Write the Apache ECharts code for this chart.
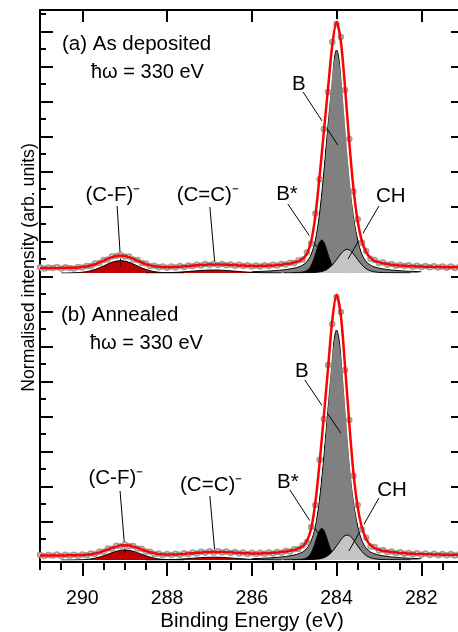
<!DOCTYPE html>
<html>
<head>
<meta charset="utf-8">
<script src="https://cdn.jsdelivr.net/npm/echarts@6/dist/echarts.min.js"></script>
<style>
  html, body { margin: 0; padding: 0; background: #fff; }
  #grafico { width: 458px; height: 632px; }
</style>
</head>
<body>
<div id="grafico"></div>
<script>
// binding energy of the measured points (eV)
var energia = [291.0, 290.9, 290.8, 290.7, 290.6, 290.5, 290.4, 290.3, 290.2, 290.1,
  290.0, 289.9, 289.8, 289.7, 289.6, 289.5, 289.4, 289.3, 289.2, 289.1,
  289.0, 288.9, 288.8, 288.7, 288.6, 288.5, 288.4, 288.3, 288.2, 288.1,
  288.0, 287.9, 287.8, 287.7, 287.6, 287.5, 287.4, 287.3, 287.2, 287.1,
  287.0, 286.9, 286.8, 286.7, 286.6, 286.5, 286.4, 286.3, 286.2, 286.1,
  286.0, 285.9, 285.8, 285.7, 285.6, 285.5, 285.4, 285.3, 285.2, 285.1,
  285.0, 284.9, 284.8, 284.7, 284.6, 284.5, 284.4, 284.3, 284.2, 284.1,
  284.0, 283.9, 283.8, 283.7, 283.6, 283.5, 283.4, 283.3, 283.2, 283.1,
  283.0, 282.9, 282.8, 282.7, 282.6, 282.5, 282.4, 282.3, 282.2, 282.1,
  282.0, 281.9, 281.8, 281.7, 281.6, 281.5, 281.4, 281.3, 281.2, 281.1,
  281.0];

// (a) as deposited
var dadosA = [5.8, 4.6, 5.5, 4.9, 5.9, 4.4, 5.7, 5.0, 4.6, 6.1,
  5.4, 7.0, 7.1, 9.5, 10.0, 13.0, 13.6, 16.6, 17.0, 18.3,
  16.5, 16.4, 13.6, 12.9, 10.0, 9.4, 7.1, 7.2, 5.7, 6.5,
  5.3, 6.4, 5.6, 6.9, 6.1, 7.5, 6.8, 8.3, 7.5, 8.9,
  8.0, 9.2, 8.1, 9.0, 7.7, 8.6, 7.3, 8.2, 6.9, 7.8,
  6.6, 7.6, 6.6, 7.8, 6.9, 8.2, 7.4, 8.9, 8.4, 10.3,
  10.0, 12.6, 13.4, 20.5, 29.6, 59.5, 93.8, 144, 181, 231,
  249, 236, 183, 134, 81.6, 53.7, 30.2, 22.1, 14.2, 13.1,
  10.0, 10.4, 8.3, 8.9, 7.2, 8.1, 6.9, 7.7, 6.2, 7.3,
  5.9, 7.0, 5.7, 6.8, 5.4, 6.6, 5.2, 6.4, 5.1, 6.3,
  5.0];
var ajusteA = [5.1, 5.1, 5.1, 5.1, 5.1, 5.1, 5.2, 5.2, 5.3, 5.5,
  5.9, 6.5, 7.5, 8.8, 10.4, 12.3, 14.2, 15.9, 17.1, 17.5,
  17.1, 15.9, 14.2, 12.3, 10.5, 8.9, 7.6, 6.7, 6.2, 5.9,
  5.8, 5.9, 6.0, 6.3, 6.6, 6.9, 7.3, 7.7, 8.0, 8.3,
  8.5, 8.6, 8.6, 8.5, 8.3, 8.1, 7.9, 7.6, 7.4, 7.2,
  7.1, 7.0, 7.1, 7.2, 7.4, 7.6, 7.9, 8.3, 8.9, 9.6,
  10.5, 11.8, 14.0, 19.2, 31.4, 57.2, 96.9, 141, 185, 228,
  251, 232, 186, 131, 84.4, 51.5, 31.7, 20.9, 15.0, 12.2,
  10.6, 9.7, 8.9, 8.3, 7.8, 7.5, 7.2, 6.9, 6.7, 6.6,
  6.4, 6.3, 6.2, 6.1, 6.0, 5.9, 5.8, 5.8, 5.7, 5.7,
  5.6];

// (b) annealed
var dadosB = [5.3, 4.0, 5.1, 4.2, 5.4, 3.9, 5.2, 4.3, 5.3, 4.2,
  5.6, 4.8, 6.5, 6.0, 8.3, 8.2, 11.4, 11.3, 14.3, 13.7,
  15.6, 13.9, 14.1, 11.4, 11.2, 8.4, 8.3, 6.1, 6.6, 5.0,
  6.1, 5.0, 6.2, 5.2, 6.8, 5.8, 7.5, 6.6, 8.2, 7.2,
  8.7, 7.5, 8.8, 7.4, 8.4, 7.1, 8.0, 6.5, 7.5, 6.1,
  7.2, 6.0, 7.2, 6.2, 7.5, 6.6, 8.1, 7.3, 9.1, 8.6,
  10.8, 10.9, 14.5, 18.1, 33.0, 55.1, 100.2, 141, 195, 236,
  263, 248, 190, 140, 84.3, 54.9, 30.4, 22.3, 13.6, 12.9,
  9.4, 9.9, 7.8, 8.6, 6.8, 7.8, 6.2, 7.1, 5.7, 6.8,
  5.3, 6.5, 5.0, 6.3, 4.8, 6.1, 4.7, 5.9, 4.6, 5.8,
  4.5];
var ajusteB = [4.6, 4.6, 4.6, 4.6, 4.6, 4.6, 4.6, 4.7, 4.7, 4.8,
  5.0, 5.3, 5.8, 6.5, 7.6, 8.9, 10.5, 12.0, 13.4, 14.4,
  14.7, 14.4, 13.4, 12.1, 10.5, 9.0, 7.7, 6.7, 6.0, 5.6,
  5.5, 5.5, 5.6, 5.8, 6.1, 6.4, 6.8, 7.2, 7.6, 7.8,
  8.0, 8.1, 8.1, 8.0, 7.8, 7.7, 7.4, 7.1, 6.9, 6.7,
  6.6, 6.6, 6.6, 6.8, 6.9, 7.2, 7.5, 7.9, 8.5, 9.2,
  10.1, 11.5, 13.7, 19.0, 31.2, 57.7, 97.2, 144, 192, 240,
  265, 245, 194, 137, 86.9, 52.7, 32.2, 21.0, 14.8, 12.0,
  10.2, 9.2, 8.5, 7.9, 7.4, 7.1, 6.8, 6.5, 6.3, 6.1,
  6.0, 5.8, 5.7, 5.6, 5.5, 5.4, 5.3, 5.3, 5.2, 5.2,
  5.1];

// fitted components
var eCF = [290.5, 290.4, 290.3, 290.2, 290.1, 290.0, 289.9, 289.8, 289.7, 289.6,
  289.5, 289.4, 289.3, 289.2, 289.1, 289.0, 288.9, 288.8, 288.7, 288.6,
  288.5, 288.4, 288.3, 288.2, 288.1, 288.0, 287.9, 287.8, 287.7, 287.6];
var cfA = [0, 0.04, 0.09, 0.2, 0.4, 0.77, 1.38, 2.3, 3.6, 5.2,
  7.1, 9.0, 10.7, 11.9, 12.3, 11.9, 10.7, 9.0, 7.1, 5.2,
  3.6, 2.3, 1.38, 0.77, 0.4, 0.2, 0.09, 0.04, 0, 0];
var cfB = [0, 0.01, 0.03, 0.07, 0.16, 0.33, 0.63, 1.12, 1.87, 2.92,
  4.25, 5.78, 7.35, 8.72, 9.66, 10, 9.66, 8.72, 7.35, 5.78,
  4.25, 2.92, 1.87, 1.12, 0.63, 0.33, 0.16, 0.07, 0.03, 0.01];

var eCC = [288.5, 288.3, 288.1, 287.9, 287.7, 287.5, 287.3, 287.1, 286.9,
  286.7, 286.5, 286.3, 286.1, 285.9, 285.7, 285.5, 285.3];
var ccA = [0.02, 0.07, 0.19, 0.44, 0.88, 1.5, 2.2, 2.78, 3.0,
  2.78, 2.2, 1.5, 0.88, 0.44, 0.19, 0.07, 0.02];
var ccB = [0.02, 0.06, 0.18, 0.41, 0.82, 1.4, 2.05, 2.6, 2.8,
  2.6, 2.05, 1.4, 0.82, 0.41, 0.18, 0.06, 0.02];

var eB = [286.0, 285.9, 285.8, 285.7, 285.6, 285.5, 285.4, 285.3, 285.2, 285.1,
  285.0, 284.9, 284.8, 284.7, 284.6, 284.5, 284.4, 284.3, 284.2, 284.1,
  284.0, 283.9, 283.8, 283.7, 283.6, 283.5, 283.4, 283.3, 283.2, 283.1,
  283.0, 282.9, 282.8, 282.7, 282.6, 282.5, 282.4, 282.3, 282.2, 282.1, 282.0];
var bA = [1.3, 1.42, 1.58, 1.77, 1.99, 2.25, 2.56, 2.97, 3.46, 4.08,
  4.86, 6.0, 7.8, 11.4, 18.5, 33.0, 60.0, 101.7, 153.9, 202.3,
  223, 202.3, 153.9, 101.7, 60.0, 33.0, 18.5, 11.4, 7.8, 6.0,
  4.86, 4.08, 3.46, 2.97, 2.56, 2.25, 1.99, 1.77, 1.58, 1.42, 1.3];
var bB = [1.34, 1.46, 1.63, 1.83, 2.05, 2.32, 2.64, 3.06, 3.57, 4.21,
  5.01, 6.19, 8.04, 11.76, 19.08, 34.04, 61.9, 104.9, 158.7, 208.7,
  230, 208.7, 158.7, 104.9, 61.9, 34.04, 19.08, 11.76, 8.04, 6.19,
  5.01, 4.21, 3.57, 3.06, 2.64, 2.32, 2.05, 1.83, 1.63, 1.46, 1.34];

var eBs = [285.05, 284.95, 284.85, 284.8, 284.75, 284.7, 284.65, 284.6, 284.55, 284.5,
  284.45, 284.4, 284.35, 284.3, 284.25, 284.2, 284.15, 284.1, 284.05, 284.0,
  283.95, 283.9, 283.85, 283.75, 283.65];
var bsA = [0.35, 0.5, 0.7, 0.9, 1.4, 2.4, 4.2, 7.4, 12.2, 18.5,
  25.3, 30.8, 33, 30.8, 25.3, 18.5, 12.2, 7.4, 4.2, 2.4,
  1.4, 0.9, 0.7, 0.5, 0.35];
var bsB = [0.34, 0.48, 0.67, 0.86, 1.35, 2.3, 4.0, 7.1, 11.7, 17.8,
  24.3, 29.6, 31.7, 29.6, 24.3, 17.8, 11.7, 7.1, 4.0, 2.3,
  1.35, 0.86, 0.67, 0.48, 0.34];

var eCH = [285.25, 285.0, 284.75, 284.65, 284.55, 284.45, 284.35, 284.25, 284.15, 284.05,
  283.95, 283.85, 283.75, 283.65, 283.55, 283.45, 283.35, 283.25, 283.15, 283.05,
  282.95, 282.85, 282.75, 282.5, 282.25];
var chA = [0.15, 0.22, 0.33, 0.43, 0.55, 0.85, 1.5, 3.0, 5.9, 10.5,
  16.2, 21.5, 23.7, 21.5, 16.2, 10.5, 5.9, 3.0, 1.5, 0.85,
  0.55, 0.43, 0.33, 0.22, 0.15];
var chB = [0.16, 0.23, 0.35, 0.45, 0.58, 0.9, 1.6, 3.2, 6.2, 11.1,
  17.1, 22.7, 25, 22.7, 17.1, 11.1, 6.2, 3.2, 1.6, 0.9,
  0.58, 0.45, 0.35, 0.23, 0.16];

// peak labels [text, energy, intensity] and leader lines [e1, i1, e2, i2]
var rotulosA = [['B', 284.89, 189], ['(C-F)\u207B', 289.28, 78], ['(C=C)\u207B', 287.04, 78],
  ['B*', 285.17, 79], ['CH', 282.72, 77]];
var linhasA = [[284.79, 181, 283.97, 128], [289.18, 67, 289.09, 7], [286.99, 66, 286.87, 8],
  [285.15, 69, 284.46, 26], [283.0, 67, 283.73, 14]];
var rotulosB = [['B', 284.82, 189], ['(C-F)\u207B', 289.21, 82], ['(C=C)\u207B', 286.96, 75],
  ['B*', 285.15, 78], ['CH', 282.69, 70]];
var linhasB = [[284.75, 180, 283.90, 127], [289.11, 69, 288.99, 7], [286.99, 64, 286.87, 6],
  [285.10, 70, 284.44, 27], [283.0, 62, 283.71, 9]];

var fonte = '"Liberation Sans", Arial, sans-serif';

function pares(xs, ys) {
  return xs.map(function (x, i) { return [x, ys[i]]; });
}

function componente(xs, ys, painel, cor, z) {
  return {
    type: 'line', xAxisIndex: painel, yAxisIndex: painel,
    data: pares(xs, ys), smooth: 0.3, symbol: 'none', silent: true, z: z,
    lineStyle: { color: '#000', width: 1 },
    areaStyle: { color: cor, opacity: 1 }
  };
}

function seriesPainel(painel, dados, ajuste, cf, cc, b, bs, ch, rotulos, linhas) {
  return [
    componente(eB, b, painel, '#808080', 2),
    componente(eBs, bs, painel, '#000000', 3),
    componente(eCH, ch, painel, '#c4c4c4', 4),
    componente(eCF, cf, painel, '#c00000', 3),
    componente(eCC, cc, painel, '#c00000', 3),
    {
      type: 'line', xAxisIndex: painel, yAxisIndex: painel, silent: true, z: 5,
      data: pares(energia, ajuste), smooth: 0.3, symbol: 'none',
      lineStyle: { color: '#fff', width: 6 }
    },
    {
      type: 'scatter', xAxisIndex: painel, yAxisIndex: painel, silent: true, z: 6,
      data: pares(energia, dados), symbol: 'emptyCircle', symbolSize: 4.5,
      itemStyle: { color: '#888', borderColor: '#888', borderWidth: 1 }
    },
    {
      type: 'line', xAxisIndex: painel, yAxisIndex: painel, silent: true, z: 7,
      data: pares(energia, ajuste), smooth: 0.3, symbol: 'none',
      lineStyle: { color: '#ff0000', width: 2.5 },
      markLine: {
        silent: true, symbol: ['none', 'none'], label: { show: false },
        lineStyle: { color: '#000', width: 1, type: 'solid' },
        data: linhas.map(function (l) {
          return [{ coord: [l[0], l[1]] }, { coord: [l[2], l[3]] }];
        })
      },
      markPoint: {
        silent: true, symbol: 'circle', symbolSize: 1,
        itemStyle: { color: 'transparent' },
        label: { show: true, position: 'inside', formatter: '{b}', color: '#000', fontSize: 20.5, fontFamily: fonte },
        data: rotulos.map(function (r) { return { name: r[0], coord: [r[1], r[2]] }; })
      }
    }
  ];
}

function eixoX(grade, extra) {
  var eixo = {
    type: 'value', gridIndex: grade, min: 280, max: 291, inverse: true,
    axisLine: { show: false }, axisTick: { show: false }, axisLabel: { show: false },
    splitLine: { show: false }
  };
  for (var k in extra) eixo[k] = extra[k];
  return eixo;
}

function eixoY(grade, extra) {
  var eixo = {
    type: 'value', gridIndex: grade, min: 0, max: 1,
    axisLine: { show: false }, axisTick: { show: false }, axisLabel: { show: false },
    splitLine: { show: false }
  };
  for (var k in extra) eixo[k] = extra[k];
  return eixo;
}

function grade(left, top, width, height) {
  return { left: left, top: top, width: width, height: height, containLabel: false, outerBoundsMode: 'none' };
}

function texto(t, x, y, tamanho, extra) {
  var g = { type: 'text', x: x, y: y, z: 100,
    style: { text: t, font: tamanho + 'px ' + fonte, fill: '#000', verticalAlign: 'middle' } };
  for (var k in extra) g[k] = extra[k];
  return g;
}

var chart = echarts.init(document.getElementById('grafico'));
var preto = { color: '#000', width: 2 };

var option = {
  animation: false,
  backgroundColor: '#fff',
  textStyle: { fontFamily: fonte },
  grid: [
    grade(40, 10, 466, 263),    // panel (a)
    grade(40, 280, 466, 280),   // panel (b)
    grade(40, 10, 466, 552),    // frame bottom/left
    grade(40, 10, 466, 552),    // frame top
    grade(40, 10, 466, 552),    // minor ticks bottom
    grade(40, 10, 466, 552),    // minor ticks top
    grade(40, -3.3, 424, 560)   // y ticks
  ],
  xAxis: [
    eixoX(0, { show: false }),
    eixoX(1, { show: false }),
    eixoX(2, {
      position: 'bottom', interval: 2,
      axisLine: { show: true, onZero: false, lineStyle: preto },
      axisTick: { show: true, inside: false, length: 14, lineStyle: preto },
      axisLabel: { show: true, margin: 27, fontSize: 19.5, color: '#000', fontFamily: fonte, showMaxLabel: false }
    }),
    eixoX(3, {
      position: 'top', interval: 2,
      axisLine: { show: true, onZero: false, lineStyle: preto },
      axisTick: { show: true, inside: true, length: 12, lineStyle: preto }
    }),
    eixoX(4, {
      position: 'bottom', interval: 0.5,
      axisTick: { show: true, inside: false, length: 8, lineStyle: preto }
    }),
    eixoX(5, {
      position: 'top', interval: 0.5,
      axisTick: { show: true, inside: true, length: 7, lineStyle: preto }
    }),
    eixoX(6, { show: false })
  ],
  yAxis: [
    eixoY(0, { show: false, max: 263 }),
    eixoY(1, { show: false, max: 280 }),
    eixoY(2, { position: 'left', axisLine: { show: true, onZero: false, lineStyle: preto } }),
    eixoY(3, { position: 'right', axisLine: { show: true, onZero: false, lineStyle: preto } }),
    eixoY(4, {}),
    eixoY(5, {}),
    eixoY(6, {
      position: 'left', max: 32, interval: 2,
      axisTick: { show: true, inside: true, length: 13, lineStyle: preto },
      minorTick: { show: true, splitNumber: 2, length: 6, lineStyle: preto }
    }),
    eixoY(6, {
      position: 'right', max: 32, interval: 2,
      axisTick: { show: true, inside: true, length: 13, lineStyle: preto },
      minorTick: { show: true, splitNumber: 2, length: 6, lineStyle: preto }
    })
  ],
  graphic: [
    texto('(a) As deposited', 62, 44.5, 20.5),
    texto('\u0127\u03C9 = 330 eV', 91, 72, 20),
    texto('(b) Annealed', 61, 315, 20.5),
    texto('\u0127\u03C9 = 330 eV', 90, 343, 20),
    texto('Binding Energy (eV)', 252, 621, 20.5, { style: { text: 'Binding Energy (eV)', font: '20.5px ' + fonte, fill: '#000', align: 'center', verticalAlign: 'middle' } }),
    texto('Normalised intensity (arb. units)', 29, 267.5, 17.7, {
      rotation: Math.PI / 2,
      style: { text: 'Normalised intensity (arb. units)', font: '17.7px ' + fonte, fill: '#000', align: 'center', verticalAlign: 'middle' }
    })
  ],
  series: seriesPainel(0, dadosA, ajusteA, cfA, ccA, bA, bsA, chA, rotulosA, linhasA)
    .concat(seriesPainel(1, dadosB, ajusteB, cfB, ccB, bB, bsB, chB, rotulosB, linhasB))
};

chart.setOption(option);
</script>
</body>
</html>
